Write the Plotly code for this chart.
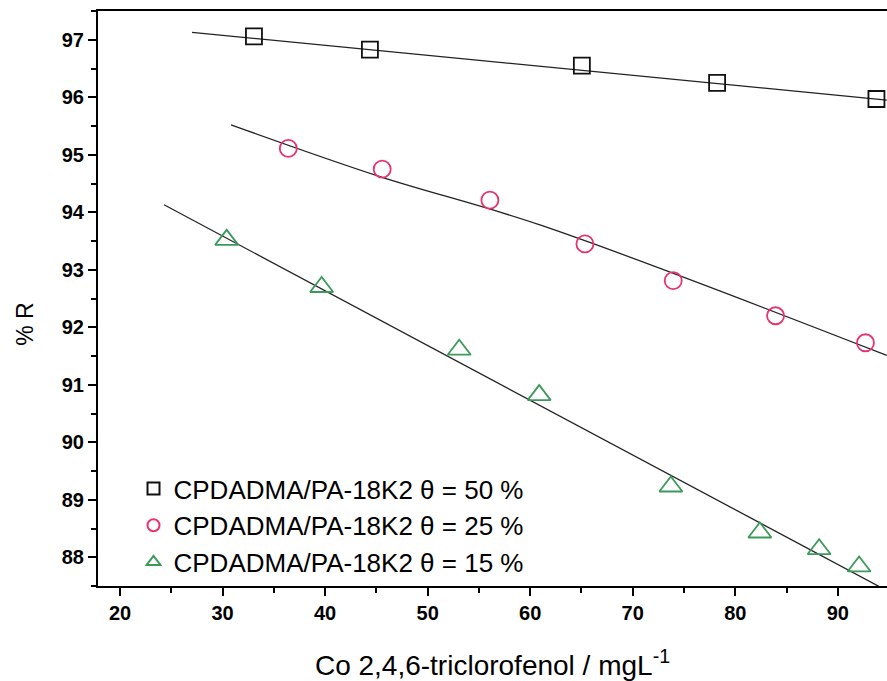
import plotly.graph_objects as go

# --- data ---
sq_x = [33.06, 44.37, 65.04, 78.23, 93.77]
sq_y = [97.06, 96.83, 96.55, 96.25, 95.97]
ci_x = [36.41, 45.57, 56.07, 65.34, 73.95, 83.93, 92.70]
ci_y = [95.11, 94.75, 94.21, 93.45, 92.81, 92.20, 91.73]
tr_x = [30.40, 39.66, 53.08, 60.88, 73.72, 82.40, 88.18, 92.08]
tr_y = [93.52, 92.70, 91.61, 90.82, 89.23, 88.43, 88.14, 87.84]

# fitted curves
sq_fit_x = [27.02, 94.78]
sq_fit_y = [97.13, 95.95]
ci_fit_x = [30.82, 45.35, 60.95, 94.78]
ci_fit_y = [95.52, 94.62, 93.78, 91.51]
tr_fit_x = [24.29, 94.78]
tr_fit_y = [94.13, 87.42]

names = ["CPDADMA/PA-18K2 \u03b8 = 50 %",
         "CPDADMA/PA-18K2 \u03b8 = 25 %",
         "CPDADMA/PA-18K2 \u03b8 = 15 %"]
y_ticks = [88, 89, 90, 91, 92, 93, 94, 95, 96, 97]
x_ticks = [20, 30, 40, 50, 60, 70, 80, 90]

BLACK = "#111111"
RED = "#e8336b"
GREEN = "#3b9a5a"
FONT = "Liberation Sans, Arial, sans-serif"

fig = go.Figure()
for fx, fy, sh in [(sq_fit_x, sq_fit_y, "linear"), (ci_fit_x, ci_fit_y, "spline"), (tr_fit_x, tr_fit_y, "linear")]:
    fig.add_trace(go.Scatter(x=fx, y=fy, mode="lines", line=dict(color="#222222", width=1.3, shape=sh),
                             showlegend=False, hoverinfo="skip"))

fig.add_trace(go.Scatter(x=sq_x, y=sq_y, mode="markers", name=names[0],
                         marker=dict(symbol="square-open", size=16, color=BLACK, line=dict(width=1.8, color=BLACK))))
fig.add_trace(go.Scatter(x=ci_x, y=ci_y, mode="markers", name=names[1],
                         marker=dict(symbol="circle-open", size=17, color=RED, line=dict(width=1.8, color=RED))))
fig.add_trace(go.Scatter(x=tr_x, y=tr_y, mode="markers", name=names[2],
                         marker=dict(symbol="triangle-up-open", size=20, color=GREEN, line=dict(width=1.8, color=GREEN))))

fig.update_layout(
    width=887, height=681,
    margin=dict(l=98, r=0, t=11, b=95, autoexpand=False),
    paper_bgcolor="white", plot_bgcolor="white",
    font=dict(family=FONT, color="black"),
    showlegend=True,
    legend=dict(x=0.045, y=0.0, xanchor="left", yanchor="bottom",
                font=dict(size=26, family=FONT, color="black"),
                bgcolor="rgba(0,0,0,0)", tracegroupgap=0, itemsizing="constant"),
    xaxis=dict(range=[17.85, 94.8], tickvals=x_ticks, ticktext=[str(v) for v in x_ticks],
               automargin=False,
               showgrid=False, zeroline=False, showline=True, linecolor="black", linewidth=2,
               mirror=True, ticks="outside", ticklen=8, tickwidth=2, tickcolor="black",
               tickfont=dict(size=20, family=FONT, color="black", weight="bold"),
               minor=dict(dtick=5, tick0=0, ticks="outside", ticklen=5, tickwidth=2, tickcolor="black"),
               title=dict(text="Co 2,4,6-triclorofenol / mgL<sup>-1</sup>",
                          font=dict(size=28, family=FONT, color="black"), standoff=33)),
    yaxis=dict(range=[87.5, 97.5], tickvals=y_ticks, ticktext=[str(v) for v in y_ticks],
               automargin=False,
               showgrid=False, zeroline=False, showline=True, linecolor="black", linewidth=2,
               ticks="outside", ticklen=8, tickwidth=2, tickcolor="black",
               tickfont=dict(size=20, family=FONT, color="black", weight="bold"),
               minor=dict(dtick=0.5, tick0=0, ticks="outside", ticklen=5, tickwidth=2, tickcolor="black")),
)

fig.add_annotation(text="% R", xref="paper", yref="paper", textangle=-90,
                   x=-0.092, y=0.455, xanchor="center", yanchor="middle", showarrow=False,
                   font=dict(size=23, family=FONT, color="black"))

fig.write_html("out.html", config={"displayModeBar": False},
               post_script="document.body.style.margin='0';document.body.style.overflow='hidden';")
